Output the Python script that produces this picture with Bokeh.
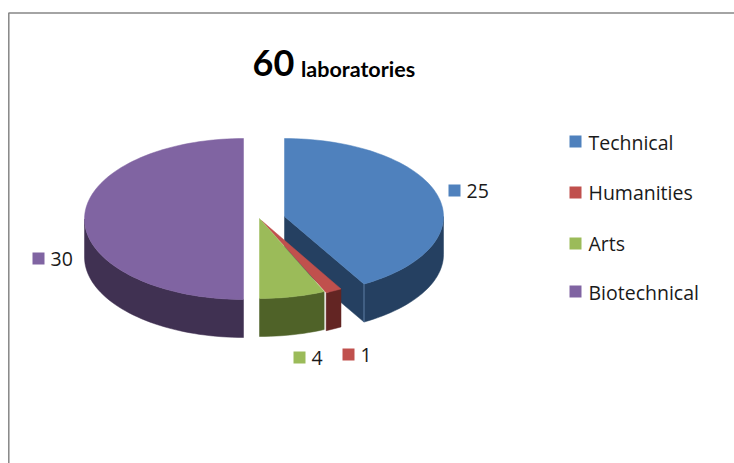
import math
from bokeh.plotting import figure
from bokeh.embed import file_html
from bokeh.resources import INLINE
from bokeh.core.properties import value

# --- data ---
categories = ["Technical", "Humanities", "Arts", "Biotechnical"]
laboratories = [25, 1, 4, 30]
title_unit = "laboratories"

# --- styles and layout ---
TOP = ["#4F81BD", "#C0504D", "#9BBB59", "#8064A2"]
SIDE = ["#254061", "#632523", "#4F6228", "#403152"]
FONT = value("Open Sans")
TITLE_FONT = value("Lato")
TEXT = "#1a1a1a"
DEPTH = 38
RX = 159
# apex x, apex y, vertical radius of each exploded slice
SLICE = [(284, 216, 78), (261, 220, 79), (259, 218, 80), (243, 218.5, 80.5)]
LABEL_POS = [(448, 184), (342, 348), (293, 351), (32, 252)]
LEGEND_Y = [135, 186, 237, 285]
LEGEND_BASE = [150, 200, 251, 300]
BASE_SHIFT = 0.41  # the renderer's alphabetic baseline sits this many em too low

p = figure(width=734, height=463, x_range=(0, 734), y_range=(463, 0),
           toolbar_location=None, output_backend="svg", min_border=0,
           outline_line_color=None, background_fill_color="white",
           border_fill_color="white")
p.axis.visible = False
p.grid.visible = False

# chart frame
p.line([8.3, 8.3, 734], [463, 12.5, 12.5], line_color="#868686", line_width=1.5)


def arc(i, a0, a1):
    ax, ay, ry = SLICE[i]
    n = max(2, int(abs(a1 - a0) / 2) + 1)
    angs = [math.radians(a0 + (a1 - a0) * k / (n - 1)) for k in range(n)]
    return ([ax + RX * math.sin(t) for t in angs],
            [ay - ry * math.cos(t) for t in angs])


def label(x, base, text, size, font=FONT, style="normal", color=TEXT):
    p.text([x], [base - BASE_SHIFT * size], text=[text], text_font=font,
           text_font_size=f"{size}px", text_font_style=style, text_color=color,
           text_baseline="alphabetic", text_align="left")


# slice angles from the values
total = sum(laboratories)
angles = []
c = 0
for v in laboratories:
    angles.append((c / total * 360, (c + v) / total * 360))
    c += v

# walls, back to front
for i in [0, 3, 2, 1]:
    a0, a1 = angles[i]
    ax, ay, ry = SLICE[i]
    lo, hi = max(a0, 90), min(a1, 270)
    if i == 0:  # cut face of the first slice, seen from the front
        xs, ys = arc(i, a1, a1)
        cx, cy = xs[0], ys[0]
        p.patch([ax, cx, cx, ax], [ay, cy, cy + DEPTH, ay + DEPTH],
                fill_color=SIDE[i], line_color=SIDE[i], line_width=0.5)
    if hi > lo:
        xs, ys = arc(i, lo, hi)
        p.patch(xs + xs[::-1], ys + [y + DEPTH for y in ys[::-1]],
                fill_color=SIDE[i], line_color=SIDE[i], line_width=0.5)
    if i == 0:
        p.line([cx, cx], [cy, cy + DEPTH], line_color="#5F7FA6", line_width=1)

# top faces
for i in [0, 3, 1, 2]:
    a0, a1 = angles[i]
    ax, ay, ry = SLICE[i]
    xs, ys = arc(i, a0, a1)
    p.patch([ax] + xs, [ay] + ys, fill_color=TOP[i], line_color=TOP[i], line_width=0.5)

# data labels
for i, v in enumerate(laboratories):
    x, y = LABEL_POS[i]
    p.quad(left=x, right=x + 12, top=y, bottom=y + 12, fill_color=TOP[i], line_color=None)
    label(x + 18, y + 14.5, str(v), 19.5)

# legend
for i, name in enumerate(categories):
    p.quad(left=569, right=581, top=LEGEND_Y[i], bottom=LEGEND_Y[i] + 12,
           fill_color=TOP[i], line_color=None)
    label(588, LEGEND_BASE[i], name, 19.5)

# title
label(252, 77, str(total), 36, TITLE_FONT, "bold", "black")
label(300.5, 77, title_unit, 21.5, TITLE_FONT, "bold", "black")

open("out.html", "w").write(file_html(p, INLINE))
